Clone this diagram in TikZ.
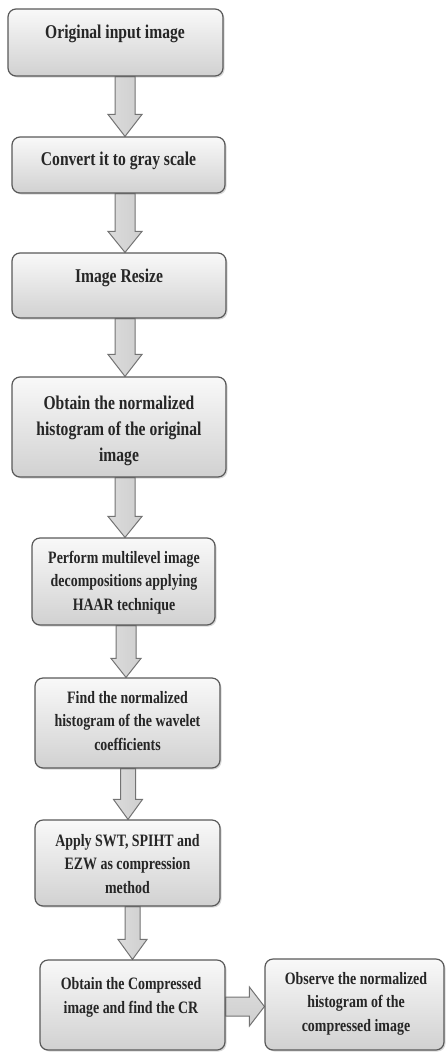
\documentclass[tikz,border=0pt]{standalone}
\usepackage{fontspec}
\usepackage{graphicx}
\setmainfont{Liberation Serif}
\usetikzlibrary{calc,shadows}
\pgfdeclarelayer{bg}
\pgfsetlayers{bg,main}
\newcommand{\sx}[1]{\scalebox{0.8}[1]{\begin{tabular}{@{}c@{}}#1\end{tabular}}}
\tikzset{
  box/.style={draw=black!65, line width=1.2pt, rounded corners=8pt,
    top color=gray!5, bottom color=gray!36, inner sep=0pt,
    drop shadow={shadow xshift=1.5pt, shadow yshift=-1.5pt, opacity=0.3}},
  barrow/.style={draw=black!55, line width=1pt, line join=miter,
    left color=gray!28, middle color=gray!3, right color=gray!38},
  bigtxt/.style={font=\bfseries\fontsize{19.5}{26}\selectfont, inner sep=0pt, text=black!85},
  smalltxt/.style={font=\bfseries\fontsize{17.4}{23.5}\selectfont, inner sep=0pt, text=black!85}
}
% down block arrow: from, to, centre x, shaft half width, head half width, head length
\newcommand{\darrow}[6]{%
  \coordinate (ax) at (#3,0);
  \begin{pgfonlayer}{bg}
  \path[barrow] ($(#1.south -| ax)+(-#4,0)$) -- ($(#2.north -| ax)+(-#4,-#6)$)
    -- ($(#2.north -| ax)+(-#5,-#6)$) -- (#2.north -| ax)
    -- ($(#2.north -| ax)+(#5,-#6)$) -- ($(#2.north -| ax)+(#4,-#6)$)
    -- ($(#1.south -| ax)+(#4,0)$) -- cycle;
  \end{pgfonlayer}}
% right block arrow: from, to, centre y, shaft half width, head half width, head length
\newcommand{\rarrow}[6]{%
  \coordinate (ay) at (0,#3);
  \begin{pgfonlayer}{bg}
  \path[barrow, top color=gray!28, middle color=gray!3, bottom color=gray!38]
    ($(#1.east |- ay)+(0,-#4)$) -- ($(#2.west |- ay)+(-#6,-#4)$)
    -- ($(#2.west |- ay)+(-#6,-#5)$) -- (#2.west |- ay)
    -- ($(#2.west |- ay)+(-#6,#5)$) -- ($(#2.west |- ay)+(-#6,#4)$)
    -- ($(#1.east |- ay)+(0,#4)$) -- cycle;
  \end{pgfonlayer}}
\begin{document}
\begin{tikzpicture}[x=1pt,y=-1pt]
\useasboundingbox (0,0) rectangle (446,1053);
\node[box, minimum width=215, minimum height=67] (b1) at (115.5,42.5) {};
\node[box, minimum width=213, minimum height=56] (b2) at (118.5,165) {};
\node[box, minimum width=214, minimum height=65] (b3) at (119,285.5) {};
\node[box, minimum width=214, minimum height=100] (b4) at (119,427) {};
\node[box, minimum width=183, minimum height=87] (b5) at (123.5,581.5) {};
\node[box, minimum width=185, minimum height=90] (b6) at (127.5,723) {};
\node[box, minimum width=185, minimum height=86] (b7) at (127.5,863) {};
\node[box, minimum width=185, minimum height=90] (b8) at (132.5,1005) {};
\node[box, minimum width=179, minimum height=91] (b9) at (354.5,1004.5) {};

\node[bigtxt] (t1) at (115,33) {\sx{Original input image}};
\node[bigtxt] (t2) at (118.5,160) {\sx{Convert it to gray scale}};
\node[bigtxt] (t3) at (119,277) {\sx{Image Resize}};
\node[bigtxt] (t4) at (119,430) {\sx{Obtain the normalized\\histogram of the original\\image}};
\node[smalltxt] (t5) at (124,582) {\sx{Perform multilevel image\\decompositions applying\\HAAR technique}};
\node[smalltxt] (t6) at (127.5,722) {\sx{Find the normalized\\histogram of the wavelet\\coefficients}};
\node[smalltxt] (t7) at (127.5,865) {\sx{Apply SWT, SPIHT and\\EZW as compression\\method}};
\node[smalltxt] (t8) at (131,997) {\sx{Obtain the Compressed\\image and find the CR}};
\node[smalltxt] (t9) at (356,1003) {\sx{Observe the normalized\\histogram of the\\compressed image}};

\darrow{b1}{b2}{125}{10}{17}{22}
\darrow{b2}{b3}{125}{10}{17}{21}
\darrow{b3}{b4}{125}{10}{17}{22}
\darrow{b4}{b5}{125}{10}{17}{21}
\darrow{b5}{b6}{126}{10}{15}{19}
\darrow{b6}{b7}{128}{7.5}{14.5}{20}
\darrow{b7}{b8}{132.5}{7.5}{14.5}{20}
\rarrow{b8}{b9}{1006.5}{9.5}{19.5}{15}
\end{tikzpicture}
\end{document}
